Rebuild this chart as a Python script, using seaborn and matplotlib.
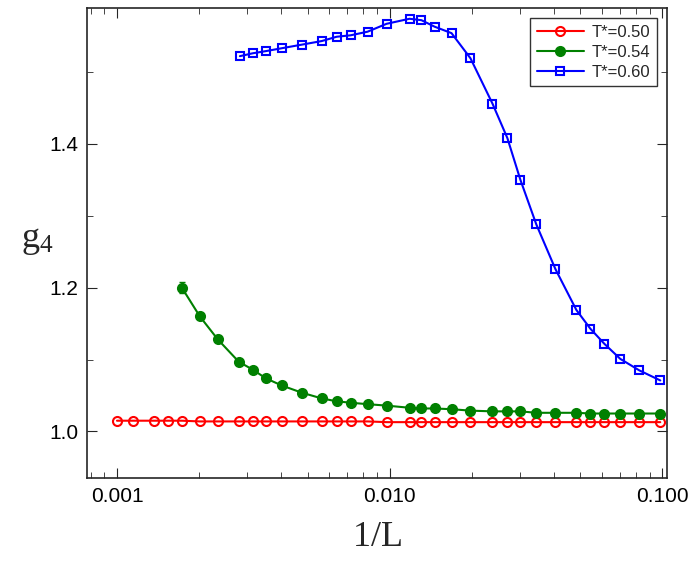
import matplotlib
matplotlib.use("Agg")
import matplotlib.pyplot as plt
import seaborn as sns
import pandas as pd
from matplotlib.ticker import LogLocator, NullFormatter, MultipleLocator

sns.set_style("ticks")
plt.rcParams['font.family'] = ['Liberation Sans', 'DejaVu Sans']
plt.rcParams['mathtext.fontset'] = 'custom'
plt.rcParams['mathtext.rm'] = 'Liberation Serif'
plt.rcParams['mathtext.it'] = 'Liberation Serif'

x_all = [0.00100, 0.001144, 0.001366, 0.001538, 0.00173, 0.002014, 0.002344, 0.002797,
         0.003148, 0.003515, 0.004020, 0.004762, 0.005636, 0.006394, 0.007194, 0.008299,
         0.009747, 0.01183, 0.01309, 0.01462, 0.01687, 0.01980, 0.02384, 0.02704,
         0.03018, 0.03452, 0.04055, 0.04842, 0.05448, 0.06132, 0.07015, 0.08237, 0.09836]
x_red = x_all
y_red = [1.015, 1.015, 1.015, 1.015, 1.015, 1.014, 1.014, 1.014, 1.014, 1.014, 1.014,
         1.014, 1.014, 1.014, 1.014, 1.014, 1.013, 1.013, 1.013, 1.013, 1.013, 1.013,
         1.013, 1.013, 1.013, 1.013, 1.013, 1.013, 1.013, 1.013, 1.013, 1.013, 1.013]
x_green = x_all[4:]
y_green = [1.200, 1.160, 1.128, 1.097, 1.086, 1.074, 1.064, 1.054, 1.046, 1.042, 1.040,
           1.038, 1.036, 1.033, 1.032, 1.032, 1.031, 1.029, 1.028, 1.028, 1.028, 1.026,
           1.026, 1.026, 1.025, 1.025, 1.025, 1.025, 1.025]
x_blue = [0.002824] + x_all[8:]
y_blue = [1.522, 1.526, 1.529, 1.533, 1.538, 1.543, 1.549, 1.551, 1.556, 1.567, 1.574,
          1.572, 1.563, 1.554, 1.519, 1.456, 1.408, 1.350, 1.288, 1.226, 1.169, 1.143,
          1.122, 1.101, 1.085, 1.071]
green_err0 = 0.008

fig = plt.figure(figsize=(6.9, 5.7), dpi=100)
ax = fig.add_axes([0.126, 0.161, 0.841, 0.825])

series = [("T*=0.50", x_red, y_red, "red", "o", "none"),
          ("T*=0.54", x_green, y_green, "green", "o", "green"),
          ("T*=0.60", x_blue, y_blue, "blue", "s", "none")]
for lab, xs, ys, c, m, fc in series:
    df = pd.DataFrame({"x": xs, "y": ys})
    sns.lineplot(data=df, x="x", y="y", ax=ax, color=c, marker=m,
                 markersize=6.5 if m == "o" else 6,
                 markerfacecolor=fc, markeredgecolor=c, markeredgewidth=1.5,
                 linewidth=1.5, label=lab)
ax.errorbar([x_green[0]], [y_green[0]], yerr=[green_err0], color="green",
            capsize=2, linewidth=1, fmt="none")

ax.set_xscale("log")
ax.set_xlim(0.000776, 0.1043)
ax.set_ylim(0.935, 1.589)
ax.set_xticks([0.001, 0.01, 0.1])
ax.set_xticklabels(["0.001", "0.010", "0.100"])
ax.xaxis.set_minor_locator(LogLocator(subs=range(2, 10)))
ax.xaxis.set_minor_formatter(NullFormatter())
ax.set_yticks([1.0, 1.2, 1.4])
ax.set_yticklabels(["1.0", "1.2", "1.4"])
ax.yaxis.set_minor_locator(MultipleLocator(0.1))
ax.tick_params(which="both", direction="in", top=True, right=True, labelsize=15,
               labelcolor="black")
ax.tick_params(which="major", length=7, pad=6)
ax.tick_params(which="minor", length=4)
for s in ax.spines.values():
    s.set_linewidth(1.2)
ax.set_xlabel("$\\mathrm{1/L}$", fontsize=26, labelpad=10)
ax.set_ylabel("$\\mathrm{g_4}$", fontsize=26, rotation=0)
ax.yaxis.set_label_coords(-0.085, 0.47)
leg = ax.legend(loc="upper right", fontsize=12, frameon=True, fancybox=False,
                edgecolor="black", handlelength=2.8, borderaxespad=0.6,
                labelspacing=0.3, handletextpad=0.5)
leg.get_frame().set_linewidth(1)
fig.savefig("out.png", dpi=100)
